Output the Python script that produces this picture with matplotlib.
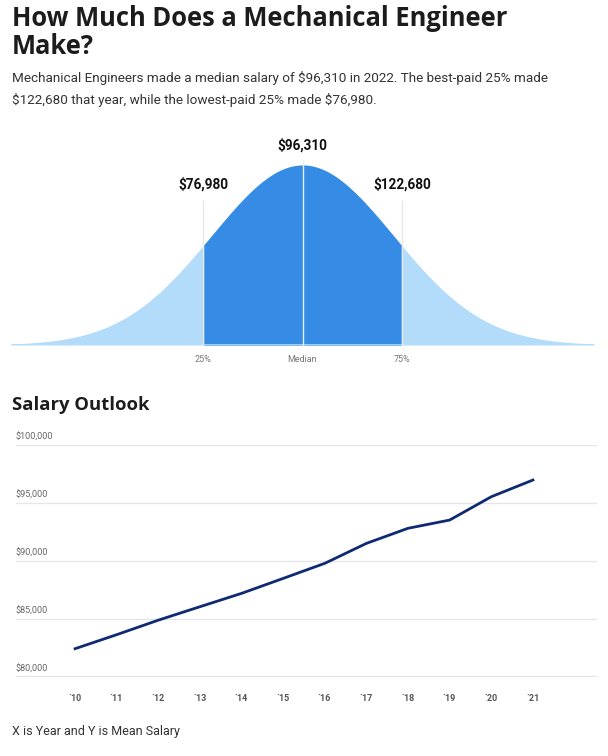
import matplotlib.pyplot as plt
import numpy as np

W, H = 608, 756

# salary distribution
pct_labels = ["25%", "Median", "75%"]
pct_values = ["$76,980", "$96,310", "$122,680"]
pct_z = [-1.09, 0.0, 1.09]   # where the markers sit on the bell, in sigma units

# salary outlook
years = [2010, 2011, 2012, 2013, 2014, 2015, 2016, 2017, 2018, 2019, 2020, 2021]
year_labels = ["`10", "`11", "`12", "`13", "`14", "`15", "`16", "`17", "`18", "`19", "`20", "`21"]
mean_salary = [82440, 83650, 84900, 86060, 87210, 88500, 89800, 91520, 92820, 93530, 95540, 96980]
y_ticks = [80000, 85000, 90000, 95000, 100000]

plt.rcParams['font.family'] = ['Roboto', 'DejaVu Sans']
plt.rcParams['text.parse_math'] = False

fig = plt.figure(figsize=(W / 100, H / 100), dpi=100)


def px(x, y):
    return x / W, 1 - y / H


def box(left, top, right, bottom):
    return [left / W, 1 - bottom / H, (right - left) / W, (bottom - top) / H]


# header
fig.text(*px(12, 18), "How Much Does a Mechanical Engineer", fontsize=18.4, fontweight="bold",
         family=["Open Sans", "DejaVu Sans"], color="#1c1c1c", va="center")
fig.text(*px(12, 47), "Make?", fontsize=18.4, fontweight="bold",
         family=["Open Sans", "DejaVu Sans"], color="#1c1c1c", va="center")
fig.text(*px(12, 78), "Mechanical Engineers made a median salary of $96,310 in 2022. The best-paid 25% made",
         fontsize=9.7, color="#333333", va="center")
fig.text(*px(12, 100), "$122,680 that year, while the lowest-paid 25% made $76,980.",
         fontsize=9.7, color="#333333", va="center")

# bell curve
ax1 = fig.add_axes(box(11, 165, 594, 345))
z = np.linspace(-3.2, 3.2, 600)
dens = np.exp(-z ** 2 / 2)
ax1.fill_between(z, 0, dens, color="#b3dcfa", lw=0)
mid = (z >= pct_z[0]) & (z <= pct_z[2])
ax1.fill_between(z[mid], 0, dens[mid], color="#368ce4", lw=0)
ax1.plot([-3.2, 3.2], [0, 0], color="#b3dcfa", lw=1.2)
ax1.set_xlim(-3.2, 3.2)
ax1.set_ylim(0, 1)
ax1.axis("off")
for zz, lab, val in zip(pct_z, pct_labels, pct_values):
    top = 1.03 if zz == 0 else 0.8
    ax1.plot([zz, zz], [0, top], color="#e8e8e8" if zz else "#e6eef8", lw=1, clip_on=False)
    ax1.text(zz, -0.08, lab, ha="center", va="center", fontsize=6.5, color="#777777")
    ax1.text(zz, 1.11 if zz == 0 else 0.89, val, ha="center", va="center",
             fontsize=9.8, fontweight="bold", color="#111111")

# salary outlook
fig.text(*px(12, 405), "Salary Outlook", fontsize=13.3, fontweight="bold",
         family=["Open Sans", "DejaVu Sans"], color="#1c1c1c", va="center")

ax2 = fig.add_axes(box(16, 445, 597, 677))
ax2.plot(years, mean_salary, color="#0f2a72", lw=2)
ax2.set_xlim(2008.58, 2022.54)
ax2.set_ylim(80000, 100000)
for v in y_ticks:
    ax2.axhline(v, color="#e6e6e6", lw=2.5 if v == 80000 else 1, zorder=0)
    ax2.text(2008.58, v + 700, f"${v:,}", ha="left", va="center", fontsize=6.5, color="#666666")
ax2.set_xticks(years)
ax2.set_xticklabels(year_labels, fontsize=6.5, fontweight="bold", color="#555555")
ax2.tick_params(axis="x", length=0, pad=12)
ax2.set_yticks([])
for s in ax2.spines.values():
    s.set_visible(False)

fig.text(*px(12, 732), "X is Year and Y is Mean Salary", fontsize=9, color="#333333", va="center")

fig.savefig("out.png", dpi=100)
